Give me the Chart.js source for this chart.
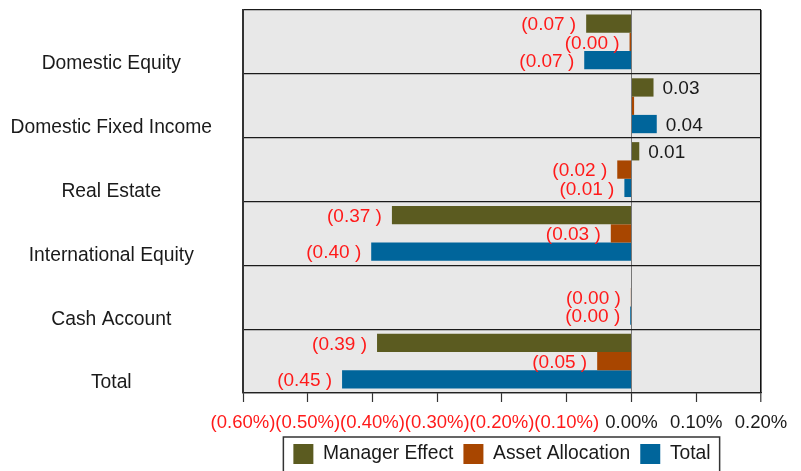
<!DOCTYPE html>
<html>
<head>
<meta charset="utf-8">
<script src="https://cdn.jsdelivr.net/npm/chart.js@4.4.1/dist/chart.umd.min.js"></script>
<style>
  html, body { margin: 0; padding: 0; background: #ffffff; }
  canvas { display: block; }
</style>
</head>
<body>
<canvas id="chart" width="801" height="471"></canvas>
<script>
// Attribution by asset class, in percent
const categories = ['Domestic Equity', 'Domestic Fixed Income', 'Real Estate', 'International Equity', 'Cash Account', 'Total'];
const managerEffect   = [-0.070, 0.034, 0.012, -0.370, 0.000, -0.393];
const assetAllocation = [-0.003, 0.004, -0.022, -0.032, -0.001, -0.053];
const totalEffect     = [-0.073, 0.039, -0.011, -0.402, -0.002, -0.447];
const seriesNames = ['Manager Effect', 'Asset Allocation', 'Total'];
const xTickValues = [-0.6, -0.5, -0.4, -0.3, -0.2, -0.1, 0, 0.1, 0.2];

const FONT = "'Liberation Sans', Arial, sans-serif";
const RED = '#ff1a1a';
const INK = '#1a1a1a';

function pct(v) {
  const s = Math.abs(v).toFixed(2) + '%';
  return v < -1e-9 ? '(' + s + ')' : s;
}

// grey plotting panel
const panelPlugin = {
  id: 'panel',
  beforeDraw(chart) {
    const { ctx, chartArea: a } = chart;
    ctx.save();
    ctx.fillStyle = '#e8e8e8';
    ctx.fillRect(a.left, a.top, a.right - a.left, a.bottom - a.top);
    ctx.restore();
  }
};

// value labels at the end of each bar
const valueLabels = {
  id: 'valueLabels',
  afterDatasetsDraw(chart) {
    const { ctx } = chart;
    ctx.save();
    ctx.font = '19px ' + FONT;
    ctx.textBaseline = 'middle';
    chart.data.datasets.forEach((ds, di) => {
      const meta = chart.getDatasetMeta(di);
      meta.data.forEach((bar, i) => {
        const v = ds.data[i];
        if (v >= 0 && v.toFixed(2) === '0.00') return;
        if (v < 0) {
          ctx.fillStyle = RED;
          ctx.textAlign = 'right';
          ctx.fillText('(' + Math.abs(v).toFixed(2) + ' )', bar.x - 10, bar.y + 1.5);
        } else {
          ctx.fillStyle = INK;
          ctx.textAlign = 'left';
          ctx.fillText(v.toFixed(2), bar.x + 9, bar.y + 1.5);
        }
      });
    });
    ctx.restore();
  }
};

// frame around the legend
const legendFrame = {
  id: 'legendFrame',
  afterDraw(chart) {
    const lg = chart.legend;
    if (!lg || !lg.legendHitBoxes || !lg.legendHitBoxes.length) return;
    const hb = lg.legendHitBoxes;
    const first = hb[0], last = hb[hb.length - 1];
    const left = first.left - 10;
    const right = last.left + last.width + 9;
    const top = 437;
    const { ctx } = chart;
    ctx.save();
    ctx.strokeStyle = '#333333';
    ctx.lineWidth = 1.5;
    ctx.beginPath();
    ctx.moveTo(left, chart.height + 5);
    ctx.lineTo(left, top);
    ctx.lineTo(right, top);
    ctx.lineTo(right, chart.height + 5);
    ctx.stroke();
    ctx.restore();
  }
};

new Chart(document.getElementById('chart'), {
  type: 'bar',
  data: {
    labels: categories,
    datasets: [
      { label: seriesNames[0], data: managerEffect,   backgroundColor: '#5b5b20', borderWidth: 0 },
      { label: seriesNames[1], data: assetAllocation, backgroundColor: '#a84600', borderWidth: 0 },
      { label: seriesNames[2], data: totalEffect,     backgroundColor: '#00659b', borderWidth: 0 }
    ]
  },
  plugins: [panelPlugin, valueLabels, legendFrame],
  options: {
    indexAxis: 'y',
    responsive: false,
    animation: false,
    events: [],
    categoryPercentage: 0.86,
    barPercentage: 1.0,
    layout: { padding: { top: 10, right: 40, bottom: -3, left: 0 } },
    scales: {
      x: {
        type: 'linear',
        position: 'bottom',
        min: -0.6,
        max: 0.2,
        afterBuildTicks(scale) { scale.ticks = xTickValues.map(v => ({ value: v })); },
        afterFit(scale) { scale.height = 41; },
        grid: {
          drawOnChartArea: true,
          drawTicks: true,
          tickLength: 9,
          tickColor: '#333333',
          tickWidth: 1.2,
          color(c) {
            const v = c.tick ? c.tick.value : NaN;
            if (Math.abs(v) < 1e-9) return '#777777';
            if (Math.abs(v - 0.2) < 1e-9) return '#111111';
            return 'rgba(0,0,0,0)';
          },
          lineWidth(c) {
            const v = c.tick ? c.tick.value : NaN;
            return Math.abs(v - 0.2) < 1e-9 ? 1.6 : 1;
          }
        },
        border: { display: true, color: '#222222', width: 1.2 },
        ticks: {
          autoSkip: false,
          maxRotation: 0,
          minRotation: 0,
          padding: 10,
          font: { family: FONT, size: 18.5 },
          color(c) { return c.tick && c.tick.value < -1e-9 ? RED : INK; },
          callback(v) { return pct(v); }
        }
      },
      y: {
        type: 'category',
        afterFit(scale) { scale.width = 243; },
        grid: {
          offset: true,
          drawTicks: true,
          tickLength: 31,
          tickColor: 'rgba(0,0,0,0)',
          color: '#1a1a1a',
          lineWidth: 1.2
        },
        border: { display: true, color: '#333333', width: 2 },
        ticks: {
          crossAlign: 'center',
          padding: 0,
          labelOffset: 22,
          font: { family: FONT, size: 19.3, lineHeight: 1.0 },
          color: INK
        }
      }
    },
    plugins: {
      legend: {
        position: 'bottom',
        fullSize: false,
        maxHeight: 40,
        labels: {
          boxWidth: 20,
          boxHeight: 20,
          padding: 10,
          color: INK,
          font: { family: FONT, size: 19.3 }
        }
      },
      tooltip: { enabled: false },
      title: { display: false }
    }
  }
});
</script>
</body>
</html>
